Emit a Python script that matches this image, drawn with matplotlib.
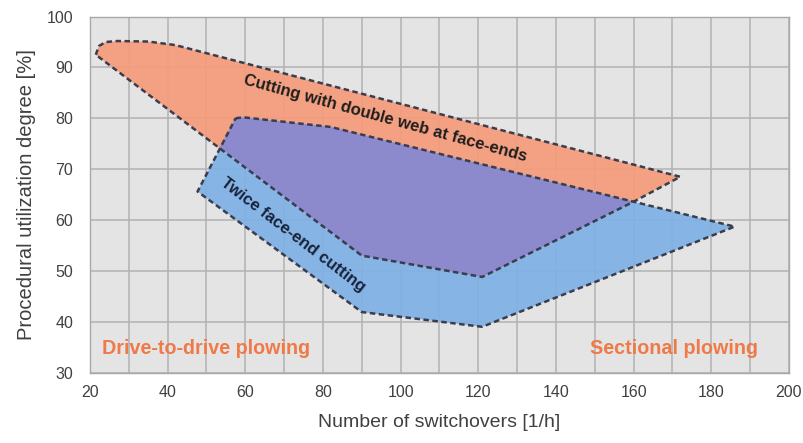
import matplotlib
matplotlib.use("Agg")
import matplotlib.pyplot as plt
from matplotlib.patches import Polygon

plt.rcParams['font.family'] = ['Liberation Sans', 'DejaVu Sans']

# region outlines (switchovers [1/h], utilization [%])
double_web_x = [21.5, 22.3, 24, 27, 35, 42, 172, 160, 121, 90]
double_web_y = [92.5, 94.2, 95.0, 95.2, 95.1, 94.4, 68.5, 63.6, 48.8, 53.0]

twice_x = [57.5, 59.5, 82, 186, 121, 90, 47.7]
twice_y = [80.0, 80.2, 78.3, 58.7, 39.0, 41.9, 65.6]

overlap_x = [57.5, 59.5, 82, 160, 121, 90, 53.4]
overlap_y = [80.0, 80.2, 78.3, 63.6, 48.8, 53.0, 74.3]

x_ticks = [20, 40, 60, 80, 100, 120, 140, 160, 180, 200]
y_ticks = [30, 40, 50, 60, 70, 80, 90, 100]

orange = '#f69b7b'
blue = '#7fb1e4'
purple = '#8d88cb'
edge = '#3a3d4e'
label_orange = '#ef7a48'
txt = '#404040'

fig = plt.figure(figsize=(8.04, 4.43), dpi=100)
ax = fig.add_axes([0.1119, 0.159, 0.8694, 0.8035])
ax.set_facecolor('#e4e4e4')

ax.set_xlim(20, 200)
ax.set_ylim(30, 100)
ax.set_xticks(x_ticks)
ax.set_xticks(range(30, 200, 20), minor=True)
ax.set_yticks(y_ticks)
ax.grid(True, which='both', color='#b2b2b2', lw=1.1)
ax.set_axisbelow(True)
ax.tick_params(which='both', length=0, labelsize=11.5, colors=txt)
ax.tick_params(axis='x', pad=9)
ax.tick_params(axis='y', pad=12)
for s in ax.spines.values():
    s.set_color('#a8a8a8')
    s.set_linewidth(1.0)

fills = [(double_web_x, double_web_y, orange),
         (twice_x, twice_y, blue),
         (overlap_x, overlap_y, purple)]
for xs, ys, col in fills:
    ax.add_patch(Polygon(list(zip(xs, ys)), closed=True, facecolor=col,
                         edgecolor='none', alpha=0.93, zorder=2))

for xs, ys in [(double_web_x, double_web_y), (twice_x, twice_y)]:
    ax.add_patch(Polygon(list(zip(xs, ys)), closed=True, fill=False,
                         edgecolor=edge, lw=1.8, ls=(0, (2.2, 1.4)),
                         joinstyle='round', zorder=3))

ax.text(96, 79.9, 'Cutting with double web at face-ends', rotation=-15.3,
        ha='center', va='center', fontsize=12, fontweight='bold',
        color='#1e1e1e', rotation_mode='anchor', zorder=4)
ax.text(72.2, 57.0, 'Twice face-end cutting', rotation=-37.4,
        ha='center', va='center', fontsize=12, fontweight='bold',
        color='#18223a', rotation_mode='anchor', zorder=4)

ax.text(23.0, 34.8, 'Drive-to-drive plowing', ha='left', va='center',
        fontsize=14.2, fontweight='bold', color=label_orange, zorder=4)
ax.text(192.0, 34.8, 'Sectional plowing', ha='right', va='center',
        fontsize=14.2, fontweight='bold', color=label_orange, zorder=4)

ax.set_xlabel('Number of switchovers [1/h]', fontsize=14, color=txt, labelpad=10)
ax.set_ylabel('Procedural utilization degree [%]', fontsize=14.5, color=txt, labelpad=8)

fig.savefig('out.png', dpi=100)
